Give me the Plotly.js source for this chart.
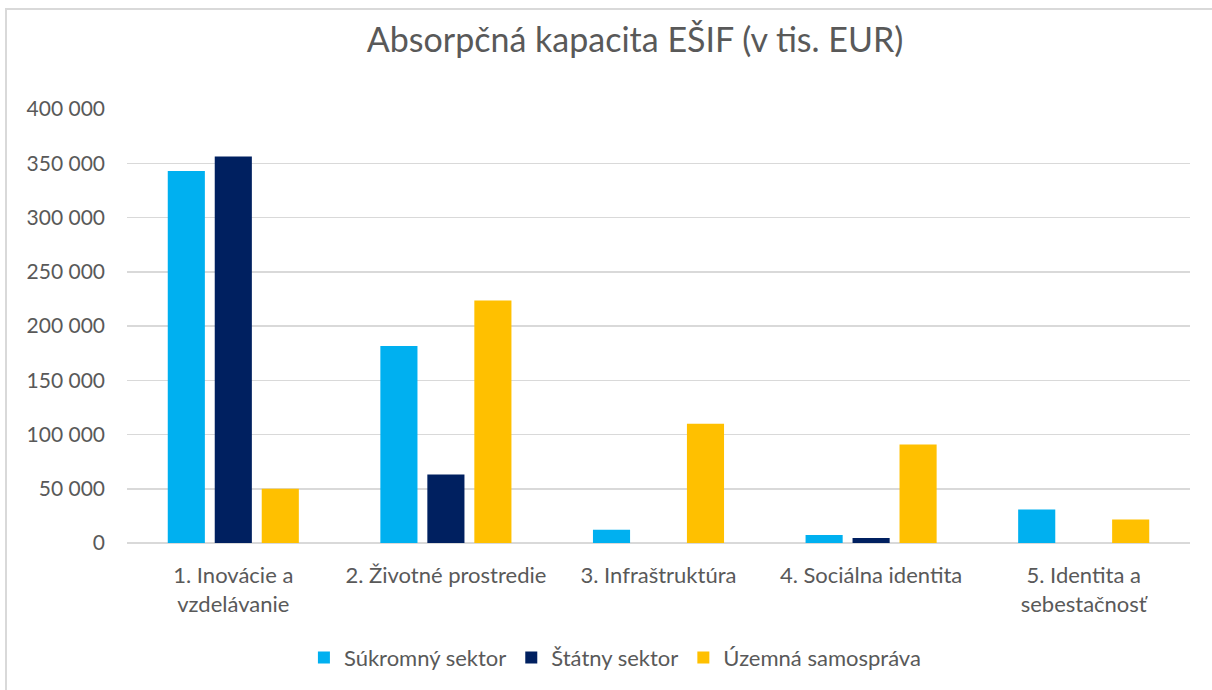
<!DOCTYPE html>
<html>
<head>
<meta charset="utf-8">
<script src="https://cdn.plot.ly/plotly-3.0.1.min.js"></script>
<style>
html,body{margin:0;padding:0;background:#fff;overflow:hidden;}
#frame{position:absolute;left:5px;top:8px;width:1240px;height:720px;border:2px solid #d9d9d9;box-sizing:border-box;}
#chart{position:absolute;left:0;top:0;width:1212px;height:690px;}
</style>
</head>
<body>
<div id="frame"></div>
<div id="chart"></div>
<script>
const categories = ["1. Inovácie a<br>vzdelávanie", "2. Životné prostredie", "3. Infraštruktúra", "4. Sociálna identita", "5. Identita a<br>sebestačnosť"];
const seriesNames = ["Súkromný sektor", "Štátny sektor", "Územná samospráva"];
const sukromny = [342800, 181600, 12200, 7300, 30900];
const statny = [356200, 63200, 0, 4600, 0];
const uzemna = [50100, 223400, 109900, 90700, 21700];
const colors = ["#00B0F0", "#002060", "#FFC000"];
const values = [sukromny, statny, uzemna];
const FONT = "Lato, 'Open Sans', sans-serif";

const traces = values.map((v, i) => ({
  type: "bar",
  name: seriesNames[i],
  x: categories,
  y: v,
  marker: {color: colors[i]},
  hoverinfo: "x+y+name"
}));

const layout = {
  width: 1212, height: 690,
  margin: {l: 127, r: 22, t: 109, b: 145},
  paper_bgcolor: "rgba(0,0,0,0)",
  plot_bgcolor: "rgba(0,0,0,0)",
  separators: ", ",
  font: {family: FONT, color: "#595959", size: 21},
  title: {text: "Absorpčná kapacita EŠIF (v tis. EUR)", font: {family: FONT, size: 34, color: "#595959"}, x: 0.524, xref: "container", xanchor: "center", y: 0.942, yanchor: "middle", yref: "container"},
  barmode: "group",
  bargap: 0.337,
  bargroupgap: 0.21,
  xaxis: {
    showgrid: false, showline: false, zeroline: false,
    ticks: "", ticklabelstandoff: 17,
    tickfont: {family: FONT, size: 22, color: "#595959"}
  },
  yaxis: {
    range: [0, 400000], dtick: 50000, tickformat: ",d",
    showgrid: true, gridcolor: "#d9d9d9", gridwidth: 1.5,
    zeroline: true, zerolinecolor: "#d9d9d9", zerolinewidth: 1.5,
    showline: false, ticks: "", ticklabelstandoff: 21,
    tickfont: {family: FONT, size: 21, color: "#595959"}
  },
  legend: {
    orientation: "h", x: 0.459, xanchor: "center", y: -0.264, yanchor: "middle",
    font: {family: FONT, size: 22, color: "#595959"},
    itemwidth: 30, traceorder: "normal"
  },
  showlegend: true
};

Plotly.newPlot("chart", traces, layout, {displayModeBar: false, staticPlot: true});
</script>
</body>
</html>
